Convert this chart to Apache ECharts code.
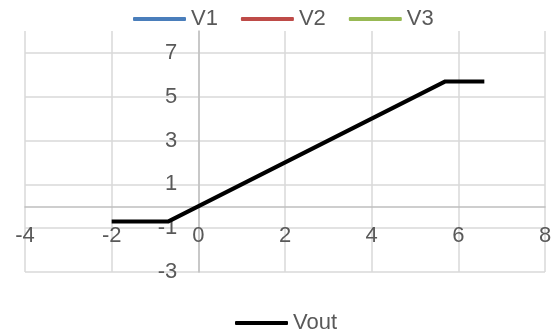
<!DOCTYPE html>
<html>
<head>
<meta charset="utf-8">
<script src="https://cdn.jsdelivr.net/npm/echarts@6/dist/echarts.min.js"></script>
<style>
  html, body { margin: 0; padding: 0; background: #fff; }
  #chart { width: 556px; height: 332px; }
</style>
</head>
<body>
<div id="chart"></div>
<script>
// Transfer curve: output clamps at -0.7 V and 5.7 V, follows the input in between
const vin = [-2, -0.7, 5.7, 6.6];
const vout = [-0.7, -0.7, 5.7, 5.7];

// Source series shown in the legend only
const sourceNames = ['V1', 'V2', 'V3'];
const sourceColors = ['#4A7EBB', '#BE4B48', '#98B954'];

const xTicks = { min: -4, max: 8, step: 2 };
const yTicks = { min: -3, max: 8, step: 2 };

const font = "'Liberation Sans', Arial, sans-serif";
const textColor = '#595959';

// Plot area
const W = 556, H = 332;
const gridBox = { left: 25, right: 11, top: 31, bottom: 60 };
const plotW = W - gridBox.left - gridBox.right;
const plotH = H - gridBox.top - gridBox.bottom;

// Both axes cross at zero: shift each axis (line and labels) inward to the origin
const yAxisShift = -plotW * (0 - xTicks.min) / (xTicks.max - xTicks.min);
const xAxisShift = -plotH * (0 - yTicks.min) / (yTicks.max - yTicks.min);

const chart = echarts.init(document.getElementById('chart'), null, { renderer: 'canvas' });

const series = sourceNames.map((name, i) => ({
  name: name,
  type: 'line',
  data: [],
  showSymbol: false,
  lineStyle: { color: sourceColors[i], width: 4 },
  itemStyle: { color: sourceColors[i] }
}));

series.push({
  name: 'Vout',
  type: 'line',
  data: vin.map((x, i) => [x, vout[i]]),
  showSymbol: false,
  symbol: 'none',
  lineStyle: { color: '#000000', width: 4, join: 'round' },
  itemStyle: { color: '#000000' },
  z: 5
});

const legendCommon = {
  icon: 'roundRect',
  itemWidth: 53,
  itemHeight: 4,
  itemGap: 23,
  textStyle: { fontFamily: font, fontSize: 22, color: textColor },
  padding: 0
};

chart.setOption({
  animation: false,
  backgroundColor: '#ffffff',
  textStyle: { fontFamily: font },
  legend: [
    Object.assign({}, legendCommon, { data: sourceNames, left: 133, top: 8 }),
    Object.assign({}, legendCommon, { data: ['Vout'], left: 235, top: 312 })
  ],
  grid: gridBox,
  xAxis: {
    type: 'value',
    position: 'bottom',
    offset: xAxisShift,
    min: xTicks.min,
    max: xTicks.max,
    interval: xTicks.step,
    axisLine: { onZero: false, lineStyle: { color: '#BFBFBF', width: 1.5 } },
    axisTick: { show: false },
    axisLabel: { fontFamily: font, fontSize: 22, color: textColor, margin: 19 },
    splitLine: { show: true, lineStyle: { color: '#D9D9D9', width: 1.5 } }
  },
  yAxis: {
    type: 'value',
    position: 'left',
    offset: yAxisShift,
    min: yTicks.min,
    max: yTicks.max,
    interval: yTicks.step,
    axisLine: { show: true, onZero: false, lineStyle: { color: '#BFBFBF', width: 1.5 } },
    axisTick: { show: false },
    axisLabel: { fontFamily: font, fontSize: 22, color: textColor, margin: 21, showMaxLabel: false },
    splitLine: { show: true, showMaxLine: false, lineStyle: { color: '#D9D9D9', width: 1.5 } }
  },
  series: series
});
</script>
</body>
</html>
